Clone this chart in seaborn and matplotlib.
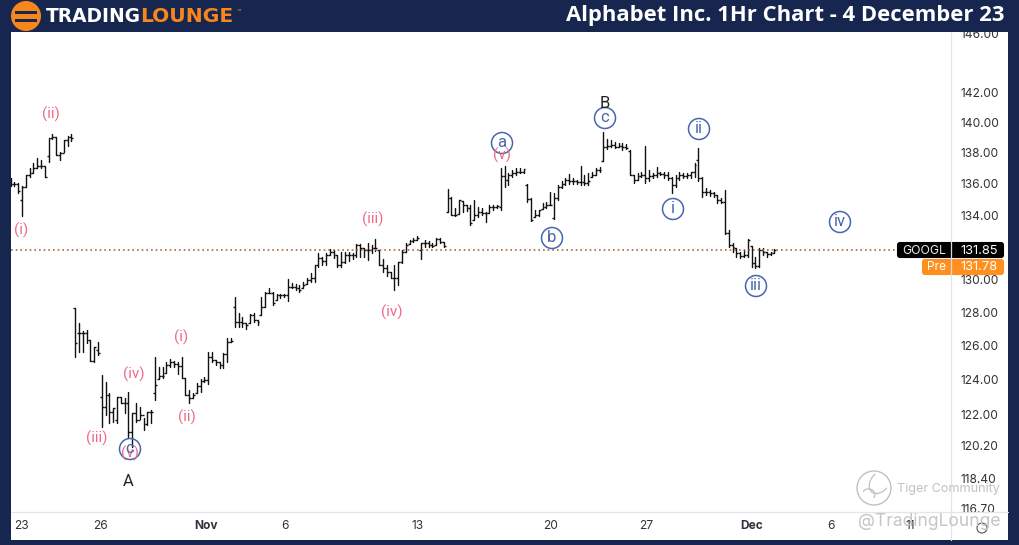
import numpy as np
import pandas as pd
import matplotlib
matplotlib.use("Agg")
import matplotlib.pyplot as plt
from matplotlib.patches import Rectangle, Circle, FancyBboxPatch, Arc
from matplotlib.ticker import NullLocator
import seaborn as sns

# hourly bars
highs = [136.37,136.11,136.05,135.86,136.56,137.01,137.33,137.65,137.52,137.14,138.96,139.22,139.02,138.04,138.83,139.09,139.22,
    128.27,127.37,126.89,126.95,126.35,125.94,126.23,124.28,123.87,123.24,122.37,123.00,123.00,122.95,123.29,122.09,122.66,122.43,121.80,122.14,122.26,
    125.35,124.76,124.76,125.05,125.23,125.11,125.05,125.35,124.11,123.41,123.24,123.81,124.05,124.17,125.64,125.64,125.17,125.05,125.58,126.47,126.47,
    128.93,127.97,127.73,127.37,127.91,127.97,127.55,128.93,129.24,129.48,129.24,129.12,129.12,129.12,130.03,129.79,129.73,129.67,129.85,130.09,130.40,130.89,131.63,131.39,131.63,131.88,131.82,131.51,131.70,131.70,131.70,131.63,132.19,132.19,131.94,132.25,132.13,132.50,131.82,131.26,130.89,130.46,130.89,131.08,131.82,132.25,132.44,132.57,132.69,132.25,132.44,132.38,132.25,132.57,132.57,132.32,
    135.66,135.15,134.45,134.96,134.90,134.64,134.64,134.96,134.52,134.45,134.20,134.64,134.64,134.64,137.01,137.14,136.69,136.88,137.01,137.01,136.94,135.98,135.09,134.33,134.33,134.77,134.83,135.47,135.41,135.92,136.18,136.37,136.62,136.37,136.24,137.14,136.56,136.69,136.75,137.01,137.07,
    139.35,138.89,138.83,138.70,138.63,138.63,138.56,138.17,136.56,136.69,136.75,138.43,136.88,136.69,137.07,136.75,136.75,136.75,136.43,136.56,136.75,136.69,136.69,136.75,137.33,138.30,136.43,135.73,135.60,135.47,135.28,135.09,135.60,133.07,132.25,131.94,131.70,131.82,132.50,132.07,131.39,131.94,131.94,131.70,131.70,131.88]
lows = [135.86,135.86,135.41,133.95,135.79,136.43,136.69,137.01,137.01,136.43,137.39,138.89,137.85,137.52,138.04,138.43,138.76,
    125.35,125.64,125.64,126.17,125.11,125.05,125.46,121.28,121.97,121.51,121.57,121.51,122.66,122.09,120.71,120.14,121.57,121.74,121.11,121.40,121.51,
    122.83,124.05,124.11,124.40,124.76,124.76,124.34,124.11,123.12,122.66,122.95,123.24,123.29,123.87,123.75,125.05,124.87,124.70,124.70,125.05,126.23,
    127.13,127.13,127.13,127.01,127.37,127.43,127.25,127.85,128.33,129.18,128.45,128.75,128.87,128.93,128.69,129.48,129.36,129.24,129.48,129.73,129.85,129.85,130.77,130.89,130.89,131.51,131.32,130.77,130.77,131.01,131.14,131.26,131.39,131.39,131.39,131.20,131.63,131.76,130.89,130.46,130.21,130.09,129.36,129.67,131.01,131.70,132.19,132.32,132.44,131.26,132.00,132.00,132.00,132.13,132.25,132.00,
    134.20,134.01,133.95,134.07,134.20,134.26,133.38,133.69,133.88,134.01,133.57,134.14,134.33,134.45,134.33,135.79,135.92,136.43,136.56,136.69,136.69,134.83,133.63,133.88,133.95,134.39,134.45,134.64,133.76,134.96,135.73,135.92,135.98,135.98,135.98,135.92,135.92,135.92,136.43,136.56,136.75,
    137.46,138.24,138.37,138.30,138.37,138.17,138.24,136.56,136.05,136.24,136.43,136.05,136.18,136.37,136.43,136.56,136.37,136.24,135.41,135.79,136.24,136.37,136.37,136.37,136.43,136.18,135.15,135.28,135.22,135.15,134.77,134.77,132.82,132.00,131.70,131.39,131.32,131.39,131.39,130.77,130.70,130.77,131.51,131.39,131.51,131.63]
opens = [135.98,135.98,135.98,134.96,135.79,136.56,136.69,137.01,137.14,137.14,137.78,138.96,139.02,137.85,137.98,138.83,139.02,
    128.27,126.77,126.77,126.77,126.35,125.11,125.76,123.00,122.43,123.12,122.14,121.68,123.00,122.66,122.66,121.00,122.09,121.68,121.97,121.45,122.14,
    123.24,124.05,124.23,124.40,124.87,125.05,124.93,124.82,124.11,123.12,122.95,123.24,123.63,123.93,123.99,125.35,125.17,125.05,124.87,125.52,126.23,
    128.33,127.43,127.43,127.37,127.37,127.85,127.55,127.85,128.33,129.18,129.18,128.75,129.06,129.06,129.06,129.55,129.55,129.48,129.48,129.73,129.97,130.09,130.89,131.32,131.14,131.51,131.70,131.51,130.89,131.08,131.51,131.51,131.51,132.13,131.94,131.82,131.82,131.94,131.82,130.89,130.70,130.46,130.09,130.09,131.08,131.70,132.19,132.38,132.44,131.82,132.25,132.25,132.13,132.13,132.50,132.32,
    134.20,135.09,134.01,134.07,134.90,134.64,134.45,133.69,134.01,134.20,134.14,134.14,134.52,134.52,134.52,136.50,136.24,136.56,136.69,136.75,136.75,135.92,135.02,133.88,134.01,134.39,134.52,134.64,133.82,135.09,135.79,135.98,136.24,136.18,136.18,136.11,136.11,136.05,136.43,136.56,136.88,
    137.46,138.37,138.43,138.50,138.37,138.43,138.37,138.11,136.56,136.24,136.50,136.56,136.37,136.50,136.56,136.69,136.62,136.56,136.37,135.92,136.37,136.56,136.50,136.56,136.75,137.52,136.37,135.47,135.47,135.41,135.28,134.96,134.83,132.88,132.13,131.94,131.63,131.45,131.51,132.07,131.01,130.83,131.82,131.70,131.57,131.63]
closes = [135.98,135.98,135.54,135.79,136.56,136.69,137.01,137.14,137.14,136.43,138.96,139.02,137.85,137.98,138.83,139.02,138.96,
    126.17,126.77,126.77,126.35,125.11,125.94,125.58,122.43,123.12,122.14,122.37,123.00,122.66,122.66,121.00,122.09,121.68,121.97,121.45,122.14,122.14,
    123.70,124.23,124.23,124.87,125.05,124.93,124.82,124.11,123.12,122.95,123.12,123.63,123.93,123.99,125.35,125.17,125.05,124.87,125.52,126.23,126.29,
    127.43,127.43,127.37,127.25,127.85,127.55,127.43,128.33,129.18,129.18,128.57,129.06,129.06,129.06,129.55,129.55,129.48,129.36,129.67,129.97,130.09,130.89,131.32,131.14,131.51,131.70,131.51,130.89,131.08,131.51,131.51,131.51,132.13,131.94,131.82,131.82,131.94,131.94,130.89,130.70,130.46,130.09,130.09,131.08,131.70,132.13,132.38,132.44,132.57,132.25,132.25,132.13,132.07,132.50,132.32,132.07,
    135.09,134.01,134.01,134.96,134.64,134.45,133.50,134.01,134.20,134.14,134.14,134.52,134.52,134.58,136.50,136.24,136.56,136.69,136.75,136.75,136.94,135.02,133.69,134.01,134.33,134.52,134.64,134.64,135.09,135.79,135.98,136.24,136.18,136.18,136.11,136.11,136.05,136.18,136.56,136.88,136.88,
    138.37,138.43,138.50,138.37,138.43,138.37,138.30,136.56,136.24,136.50,136.56,136.37,136.50,136.56,136.69,136.62,136.56,136.37,135.92,136.37,136.56,136.50,136.56,136.75,137.20,136.37,135.47,135.47,135.41,135.28,134.96,134.83,132.88,132.13,132.00,131.63,131.45,131.51,132.44,131.01,130.83,131.82,131.70,131.57,131.63,131.82]

price_ticks = [116.7, 118.4, 120.2, 122, 124, 126, 128, 130, 134, 136, 138, 140, 142, 146]
date_labels = ["23", "26", "Nov", "6", "13", "20", "27", "Dec", "6", "11"]
date_bars = [2.8, 23.6, 51.5, 72.2, 107.2, 142.2, 167.2, 195.1, 215.9, 236.7]
last_price = 131.85
pre_price = 131.78

navy = "#16264f"
orange = "#f7861c"
pink = "#ee6a86"
blue = "#4667ae"
W, H = 1020, 545

bars = pd.DataFrame({"bar": range(len(highs)), "high": highs, "low": lows, "open": opens, "close": closes})
long_bars = bars.melt(id_vars="bar", value_vars=["high", "low"], value_name="price")

sns.set_theme(style="white")
plt.rcParams["font.family"] = ["Inter", "DejaVu Sans"]

fig = plt.figure(figsize=(W / 100, H / 100), dpi=100, facecolor="white")
ax = fig.add_axes([11 / W, (H - 512) / H, 940 / W, 480 / H])
ax.set_yscale("log")

sns.lineplot(data=long_bars, x="bar", y="price", units="bar", estimator=None, errorbar=None,
             color="#111111", lw=1.0, ax=ax, legend=False)
ax.hlines(bars["open"], bars["bar"] - 0.5, bars["bar"], color="#111111", lw=1.0)
ax.hlines(bars["close"], bars["bar"], bars["bar"] + 0.5, color="#111111", lw=1.0)
ax.axhline(last_price, xmax=(899 - 11) / 940, color="#a9683a", lw=1.2, ls=(0, (1, 1.8)))

ax.set_xlim(0.13, 247.5)
ax.set_ylim(116.52, 146.07)
ax.set_xlabel("")
ax.set_ylabel("")
ax.yaxis.tick_right()
ax.yaxis.set_minor_locator(NullLocator())
ax.set_yticks(price_ticks, ["%.2f" % p for p in price_ticks])
ax.set_xticks(date_bars, date_labels)
ax.tick_params(axis="y", length=0, pad=6.5, labelsize=8.6, labelcolor="#2f3238")
ax.tick_params(axis="x", length=0, pad=6, labelsize=8.6, labelcolor="#2f3238")
for lab in ax.get_xticklabels():
    if lab.get_text() in ("Nov", "Dec"):
        lab.set_fontweight("bold")
for side in ax.spines.values():
    side.set_visible(False)

# everything below sits on a page-sized layer in pixel units
top = fig.add_axes([0, 0, 1, 1], zorder=5)
top.set_xlim(0, W)
top.set_ylim(H, 0)
top.axis("off")
top.patch.set_alpha(0)

top.plot([951, 951], [32, 540], color="#e3e5ea", lw=0.9)
top.plot([11, 1008], [512, 512], color="#e3e5ea", lw=0.9)

for x, y, w, h in [(0, 0, W, 32), (0, 0, 11, H), (1008, 0, 12, H), (0, 540, W, 5)]:
    top.add_patch(Rectangle((x, y), w, h, color=navy, lw=0))

# logo
top.add_patch(Circle((26, 16), 15, color=orange, lw=0))
top.add_patch(Rectangle((15, 11), 22, 3, color=navy, lw=0))
top.add_patch(Rectangle((15, 18.5), 22, 3, color=navy, lw=0))
top.text(46, 16.5, "TRADING", color="white", family="DejaVu Sans", weight="bold", size=13.4, va="center")
top.text(140, 16.5, "LOUNGE", color=orange, family="DejaVu Sans", weight="bold", size=14.6, va="center")
top.text(237, 11, "™", color=orange, size=5, va="center")
top.text(1005, 15.5, "Alphabet Inc. 1Hr Chart - 4 December 23", color="white", family="Open Sans",
         weight="bold", size=15.85, ha="right", va="center")

# price labels on the axis
top.add_patch(FancyBboxPatch((898, 243), 105, 14, boxstyle="round,pad=0,rounding_size=2", fc="black", ec="black", lw=1.5))
top.add_patch(FancyBboxPatch((923, 260), 80, 14, boxstyle="round,pad=0,rounding_size=2", fc="#ff9020", ec="#ff9020", lw=1.5))
top.plot([951, 951], [242, 275], color="#d8d8d8", lw=0.6)
top.text(924, 250.5, "GOOGL", color="#e8e8e8", size=8.8, ha="center", va="center")
top.text(979, 250.5, "%.2f" % last_price, color="white", size=9.3, ha="center", va="center")
top.text(937, 267.5, "Pre", color="white", size=8.6, ha="center", va="center")
top.text(979, 267.5, "%.2f" % pre_price, color="white", size=9.3, ha="center", va="center")

# wave labels
for txt, x, y in [("(ii)", 51, 114), ("(i)", 21, 230), ("(iii)", 97, 438), ("(iv)", 134, 374), ("(i)", 181, 337),
                  ("(ii)", 187, 417), ("(v)", 130, 453), ("(iii)", 373, 219), ("(iv)", 392, 312), ("(v)", 502, 155)]:
    top.text(x, y, txt, color=pink, family="Roboto", size=11, ha="center", va="center")
for txt, x, y in [("c", 130, 449), ("a", 502, 143), ("b", 552, 238), ("c", 605, 118), ("i", 673, 209),
                  ("ii", 699, 129), ("iii", 756, 286), ("iv", 840, 222)]:
    top.add_patch(Circle((x, y), 10.5, fill=False, ec=blue, lw=1.1))
    top.text(x, y - 0.5, txt, color=blue, family="Roboto", size=12, ha="center", va="center")
top.text(128, 481, "A", color="#222222", family="Roboto", size=12, ha="center", va="center")
top.text(605, 104, "B", color="#222222", family="Roboto", size=12, ha="center", va="center")

# watermarks
top.add_patch(Circle((874, 488), 17, fill=False, ec="#c0c0c0", lw=1))
top.add_patch(Arc((880, 482), 18, 26, angle=40, theta1=0, theta2=200, ec="#c0c0c0", lw=0.9))
top.add_patch(Arc((869, 494), 12, 10, angle=20, theta1=180, theta2=20, ec="#c0c0c0", lw=0.9))
top.text(897, 489, "Tiger Community", color="#c2c2c2", size=9.1, ha="left", va="center")
top.text(858, 522, "@TradingLounge", color="#c6c6c6", size=12.6, ha="left", va="center")
top.add_patch(Circle((982, 528), 5, fill=False, ec="#555555", lw=0.8))

fig.savefig("out.png", dpi=100, facecolor="white")
